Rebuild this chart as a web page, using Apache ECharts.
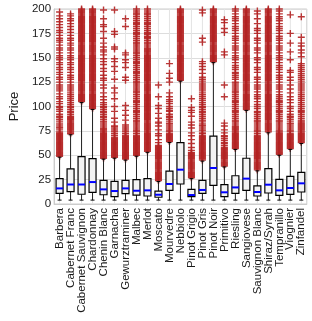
<!DOCTYPE html>
<html><head><meta charset="utf-8">
<script src="https://cdn.jsdelivr.net/npm/echarts@6/dist/echarts.min.js"></script>
<style>html,body{margin:0;padding:0;background:#fff}#c{width:312px;height:321px}</style>
</head><body><div id="c"></div>
<script>
const categories = ["Barbera","Cabernet Franc","Cabernet Sauvignon","Chardonnay","Chenin Blanc","Garnacha","Gewurztraminer","Malbec","Merlot","Moscato","Mourvedre","Nebbiolo","Pinot Grigio","Pinot Gris","Pinot Noir","Primitivo","Riesling","Sangiovese","Sauvignon Blanc","Shiraz/Syrah","Tempranillo","Viognier","Zinfandel"];
const whiskerLow  = [4,4,4,4,4,4,4,4,4,4,4,4,4,4,4,4,4,4,4,4,4,4,4];
const q1          = [11,12.6,10,12,9.5,7.5,10.6,9.2,8.2,6.9,14,20.5,7.5,11,19.1,7.5,11,14,8.2,11.3,8.9,9.9,12.3];
const median      = [16,20,20,22.5,15,13.3,16,13.6,14,9.5,20.5,35.2,9.2,14.4,36.9,12,17,26,12.3,19.8,14,16.4,21.2];
const q3          = [26,36,48.5,46.5,24.3,23.3,24.3,25,26,13.3,33.8,63,15,24.3,69.7,19.8,29,46.9,18.5,36.2,25.3,28.4,32.5];
const whiskerHigh = [48,71,104,97,46,47,45,49,53,23,63,126,26,44,145,38,56,96,34,73,50,56,62];
const yTicks = [0,25,50,75,100,125,150,175,200];

const outBarbera = [49,50,51,52,53,54,55,56,57,58,59,60,61,62,63,64,65,66,67,68,69,70,71,72,73,74,76,78,79,81,83,85,87,89,90,92,95,97,99,100,103,105,108,110,113,116,118,120,122,125,128,130,133,135,138,140,143,145,148,150,152,155,158,160,163,166,168,170,173,176,178,181,184,187,190,193,197];
const outCabFranc = [72,73,74,75,76,77,78,79,80,81,82,83,84,85,86,87,88,89,90,92,94,95,97,99,100,102,104,106,108,110,112,114,116,118,120,122,125,128,130,132,135,138,140,143,145,148,150,152,155,158,160,163,165,168,170,173,176,179,182,185,188,190,193,195];
const outCabSauv = [105,106,107,108,109,110,111,112,113,114,115,116,117,118,119,120,121,122,123,124,125,126,127,128,129,130,131,132,133,134,135,136,137,138,139,140,141,142,143,144,145,146,147,148,149,150,151,152,153,154,155,156,157,158,159,160,161,162,163,164,165,166,167,168,169,170,171,172,173,174,175,176,177,178,179,180,181,182,183,184,185,186,187,188,189,190,191,192,193,194,195,196,197,198,199,200];
const outChardonnay = [98,99,100,101,102,103,104,105,106,107,108,109,110,111,112,113,114,115,116,117,118,119,120,121,122,123,124,125,126,127,128,129,130,131,132,133,134,135,136,137,138,139,140,141,142,143,144,145,146,147,148,149,150,151,152,153,154,155,156,157,158,159,160,161,162,163,164,165,166,167,168,169,170,171,172,173,174,175,176,177,178,179,180,181,182,183,184,185,186,187,188,189,190,191,192,193,194,195,196,197,198,199,200];
const outChenin = [47,48,49,50,51,52,53,54,55,56,57,58,59,60,61,62,63,64,65,66,67,68,69,70,71,72,73,74,75,76,77,78,80,82,84,85,87,89,90,92,94,95,97,99,100,102,104,107,110,114,119,122,127,129,132,136,139,143,146,149,153,156,158,161,165,170,177,182,184,190,199];
const outGarnacha = [48,49,50,51,52,53,54,55,56,57,58,59,60,61,62,63,64,65,66,67,68,70,72,74,75,77,79,80,84,88,95,100,108,114,119,128,136,141,146,149,159,161,174,177,199];
const outGewurz = [46,47,48,49,50,51,52,53,54,55,56,57,58,59,60,61,62,63,64,65,66,67,68,69,70,72,74,75,77,79,81,86,91,96,101,127,130,140,145,148,153,155,182,190];
const outMalbec = [50,51,52,53,54,55,56,57,58,59,60,61,62,63,64,65,66,67,68,69,70,72,74,75,76,78,80,82,84,85,86,88,90,92,94,95,96,98,100,102,104,105,106,108,110,112,114,115,116,118,120,122,124,125,126,128,130,132,134,135,136,138,140,142,144,145,146,148,150,152,154,155,156,158,160,162,164,165,166,168,170,172,174,175,176,178,180,182,184,185,186,188,190,192,194,195,196,198,200];
const outMerlot = [54,55,56,57,58,59,60,61,62,63,64,65,66,67,68,69,70,71,72,73,74,75,76,77,78,79,80,81,82,83,84,85,86,87,88,89,90,91,92,93,94,95,96,97,98,99,100,101,102,103,104,105,106,107,108,109,110,111,112,113,114,115,116,117,118,119,120,121,122,123,124,125,126,127,128,129,130,131,132,133,134,135,136,137,138,139,140,141,142,143,144,145,146,147,148,149,150,151,152,153,154,155,156,157,158,159,160,162,164,165,166,168,170,171,172,174,175,176,178,180,182,184,185,186,188,190,192,194,195,196,198,200];
const outMoscato = [24,25,26,27,28,29,30,31,32,33,34,35,36,37,38,39,40,41,42,43,44,45,46,47,48,49,50,51,52,53,54,55,56,57,58,59,60,63,66,70,72,76,80,83,84,88,93,98,101,110,122];
const outMourvedre = [64,65,66,67,68,69,70,71,72,74,75,76,78,80,82,83,85,87,89,90,92,95,96,98,100,103,105,107,110,114,125,129,134,144];
const outNebbiolo = [127,128,129,130,131,132,133,134,135,136,137,138,139,140,141,142,143,144,145,146,147,148,149,150,151,152,153,154,155,156,157,158,159,160,161,162,163,164,165,166,167,168,169,170,171,172,173,174,175,176,177,178,179,180,181,182,183,184,185,186,187,188,189,190,191,192,193,194,195,196,197,198,199,200];
const outPinotGrigio = [27,28,29,30,31,32,33,34,35,36,37,38,39,40,41,42,43,44,45,46,47,48,49,50,51,52,53,55,58,62,66,70,73,78,81,84,90,94,96,99,108];
const outPinotGris = [45,46,47,48,49,50,51,52,53,54,55,56,57,58,59,60,61,62,63,64,65,66,67,68,69,70,72,73,75,76,78,80,81,83,85,86,88,90,92,94,95,97,99,100,102,104,106,108,110,112,114,116,118,120,122,124,126,128,130,134,138,141,144,146,166,170,196,199];
const outPinotNoir = [146,147,148,149,150,151,152,153,154,155,156,157,158,159,160,161,162,163,164,165,166,167,168,169,170,171,172,173,174,175,176,177,178,179,180,181,182,183,184,185,186,187,188,189,190,191,192,193,194,195,196,197,198,199,200];
const outPrimitivo = [39,40,41,42,43,44,45,46,47,48,49,50,51,52,53,54,55,56,57,58,60,62,63,65,67,69,70,73,76,80,83,110,122,153,156,176,180,186,189];
const outRiesling = [57,58,59,60,61,62,63,64,65,66,67,68,69,70,71,72,73,74,75,76,77,78,79,80,82,84,85,86,88,90,92,94,95,96,98,100,102,104,105,106,108,110,112,114,115,116,118,120,122,124,125,128,130,132,134,135,138,140,142,145,148,150,152,155,158,160,162,165,168,170,172,175,178,180,182,185,188,190,192,195,198,200];
const outSangiovese = [97,98,99,100,101,102,103,104,105,106,107,108,109,110,111,112,113,114,115,116,117,118,119,120,121,122,123,124,125,126,127,128,129,130,131,132,133,134,135,136,137,138,139,140,141,142,143,144,145,146,147,148,149,150,151,152,153,154,155,156,157,158,159,160,161,162,163,164,165,166,167,168,169,170,171,172,173,174,175,176,177,178,179,180,181,182,183,184,185,186,187,188,189,190,191,192,193,194,195,196,197,198,199,200];
const outSauvBlanc = [35,36,37,38,39,40,41,42,43,44,45,46,47,48,49,50,51,52,53,54,55,56,57,58,59,60,61,62,63,64,65,66,67,68,69,70,72,74,75,76,78,80,82,84,85,86,88,90,92,94,95,98,100,102,105,108,110,112,115,118,120,122,125,128,130,135,138,140,145,148,150,155,158,160,165,168,170,175,178,180,185,190,195,198];
const outShiraz = [74,75,76,77,78,79,80,81,82,83,84,85,86,87,88,89,90,91,92,93,94,95,96,97,98,99,100,101,102,103,104,105,106,107,108,109,110,111,112,113,114,115,116,117,118,119,120,121,122,123,124,125,126,127,128,129,130,131,132,133,134,135,136,137,138,139,140,141,142,143,144,145,146,147,148,149,150,151,152,153,154,155,156,157,158,159,160,161,162,163,164,165,166,167,168,169,170,171,172,173,174,175,176,177,178,179,180,181,182,183,184,185,186,187,188,189,190,191,192,193,194,195,196,197,198,199,200];
const outTempranillo = [51,52,53,54,55,56,57,58,59,60,61,62,63,64,65,66,67,68,69,70,71,72,73,74,75,76,78,80,82,84,85,86,88,90,92,94,95,96,98,100,102,104,105,106,108,110,112,115,118,120,122,125,128,130,132,135,138,140,142,145,148,150,152,155,158,160,162,165,168,170,172,175,178,180,182,185,188,190,192,195,198,200];
const outViognier = [57,58,59,60,61,62,63,64,65,66,67,68,69,70,71,72,74,75,76,78,80,82,83,85,87,89,90,92,95,98,100,104,107,110,114,118,122,127,130,135,137,148,156,165,175,194];
const outZinfandel = [63,64,65,66,67,68,69,70,71,72,73,74,75,76,77,78,79,80,81,82,83,84,85,86,88,90,92,94,95,96,98,100,102,104,106,108,110,112,114,116,118,120,122,124,126,128,130,132,134,136,138,140,142,144,151,155,158,162,165,171,192];
const outliers = [outBarbera,outCabFranc,outCabSauv,outChardonnay,outChenin,outGarnacha,outGewurz,outMalbec,outMerlot,outMoscato,outMourvedre,outNebbiolo,outPinotGrigio,outPinotGris,outPinotNoir,outPrimitivo,outRiesling,outSangiovese,outSauvBlanc,outShiraz,outTempranillo,outViognier,outZinfandel];

const boxData = categories.map((c,i)=>[i,whiskerLow[i],q1[i],median[i],q3[i],whiskerHigh[i]]);
const scatterData = [];
outliers.forEach((arr,i)=>arr.forEach(v=>scatterData.push([i,v])));

const chart = echarts.init(document.getElementById('c'), null, {renderer:'canvas'});
const BW = 7, CW = 4;
chart.setOption({
  animation:false,
  backgroundColor:'#fff',
  grid:{left:42.8,right:5.2,top:9,bottom:117,show:true,borderColor:'#cccccc',borderWidth:1,containLabel:false},
  xAxis:{type:'category',data:categories,boundaryGap:true,
    axisLine:{show:true,lineStyle:{color:'#cccccc'}},axisTick:{show:false},
    axisLabel:{interval:0,rotate:90,fontSize:11.5,color:'#1a1a1a',margin:4,fontFamily:'Liberation Sans'},
    splitLine:{show:false}},
  yAxis:{type:'value',min:0,max:200,interval:25,name:'Price',nameLocation:'middle',nameGap:33,nameRotate:90,
    nameTextStyle:{fontSize:13,color:'#1a1a1a',fontFamily:'Liberation Sans'},
    axisLine:{show:true,lineStyle:{color:'#cccccc'}},axisTick:{show:false},
    axisLabel:{fontSize:11.5,color:'#1a1a1a',margin:3,fontFamily:'Liberation Sans',
      formatter:v=>yTicks.indexOf(v)>=0?String(v):''},
    splitLine:{show:true,lineStyle:{color:'#dddddd',width:1}}},
  series:[
    {type:'custom',z:1,silent:true,data:categories.map((c,i)=>[i]),
     renderItem:(p,api)=>{const a=api.coord([api.value(0),0]);const b=api.coord([api.value(0),200]);
       return {type:'line',shape:{x1:a[0],y1:a[1],x2:b[0],y2:b[1]},style:{stroke:'#e3e3e3',lineWidth:1}};}},
    {type:'scatter',z:2,silent:true,data:scatterData,symbol:'path://M4,0h2v4h4v2h-4v4h-2v-4h-4v-2h4z',symbolSize:7,
     itemStyle:{color:'#b22222',opacity:0.9}},
    {type:'custom',z:3,silent:true,data:boxData,
     renderItem:(p,api)=>{
       const i=api.value(0);
       const lo=api.coord([i,api.value(1)]),a=api.coord([i,api.value(2)]),m=api.coord([i,api.value(3)]),b=api.coord([i,api.value(4)]),hi=api.coord([i,api.value(5)]);
       const x=lo[0];
       return {type:'group',children:[
         {type:'line',shape:{x1:x,y1:lo[1],x2:x,y2:a[1]},style:{stroke:'#222',lineWidth:1}},
         {type:'line',shape:{x1:x,y1:b[1],x2:x,y2:hi[1]},style:{stroke:'#222',lineWidth:1}},
         {type:'line',shape:{x1:x-CW/2,y1:lo[1],x2:x+CW/2,y2:lo[1]},style:{stroke:'#000',lineWidth:1}},
         {type:'line',shape:{x1:x-CW/2,y1:hi[1],x2:x+CW/2,y2:hi[1]},style:{stroke:'#000',lineWidth:1}},
         {type:'rect',shape:{x:x-BW/2,y:b[1],width:BW,height:a[1]-b[1]},style:{fill:'#f2f2f2',stroke:'#000',lineWidth:1.2}},
         {type:'line',shape:{x1:x-BW/2,y1:m[1],x2:x+BW/2,y2:m[1]},style:{stroke:'#0000ff',lineWidth:2}}
       ]};
     }}
  ]
});
</script></body></html>
